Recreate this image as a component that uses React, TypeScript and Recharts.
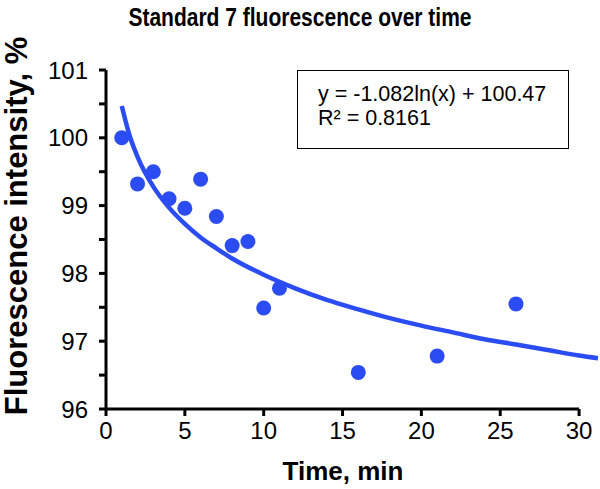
import { ComposedChart, Scatter, Line, XAxis, YAxis, ReferenceLine, Label } from 'recharts';

const timeMin = [1, 2, 3, 4, 5, 6, 7, 8, 9, 10, 11, 16, 21, 26];
const intensity = [100.0, 99.32, 99.5, 99.1, 98.96, 99.39, 98.84, 98.41, 98.47, 97.49, 97.78, 96.54, 96.78, 97.55];

// log trendline (y = -1.082ln(x) + 100.47)
const trendX = [1, 1.5, 2, 3, 4, 5, 6, 7, 8, 10, 12, 14, 16, 18, 20, 22, 24, 26, 28, 30, 31.2];
const trendY = [100.47, 100.03, 99.72, 99.28, 98.97, 98.73, 98.53, 98.37, 98.22, 97.98, 97.78, 97.61, 97.47, 97.34, 97.23, 97.13, 97.03, 96.95, 96.87, 96.79, 96.75];

const xTicks = [0, 5, 10, 15, 20, 25, 30];
const yTicks = [96, 96.5, 97, 97.5, 98, 98.5, 99, 99.5, 100, 100.5, 101];

const BLUE = '#2b4cf3';
const FONT = '"Liberation Sans", Arial, sans-serif';

const points = timeMin.map((x, i) => ({ x, y: intensity[i] }));
const trend = trendX.map((x, i) => ({ x, y: trendY[i] }));

export default function App() {
    return (
        <div style={{ position: 'absolute', left: 0, top: 0, width: 600, height: 489, background: '#fff', fontFamily: FONT }}>
            <div style={{
                position: 'absolute', left: 0, top: 3, width: 600, textAlign: 'center',
                fontSize: 21, fontWeight: 'bold', lineHeight: '24px', color: '#000',
                transform: 'scaleY(1.2)', transformOrigin: 'top',
            }}>
                Standard 7 fluorescence over time
            </div>
            <ComposedChart
                width={600}
                height={489}
                margin={{ top: 70, right: 2, bottom: 0, left: 46 }}
                style={{ fontFamily: FONT }}
            >
                <XAxis
                    dataKey="x"
                    type="number"
                    domain={[0, 31.2]}
                    ticks={xTicks}
                    axisLine={false}
                    tickLine={{ stroke: '#000', strokeWidth: 3 }}
                    tickSize={7}
                    tickMargin={6}
                    tick={{ fill: '#000', fontSize: 24 }}
                    height={80}
                    allowDataOverflow
                >
                    <Label
                        value="Time, min"
                        content={() => (
                            <text x={343} y={480} textAnchor="middle" fontSize={26} fontWeight="bold" fill="#000">
                                Time, min
                            </text>
                        )}
                    />
                </XAxis>
                <YAxis
                    type="number"
                    domain={[96, 101]}
                    ticks={yTicks}
                    interval={0}
                    tickFormatter={(v: number) => (Number.isInteger(v) ? String(v) : '')}
                    axisLine={{ stroke: '#000', strokeWidth: 3 }}
                    tickLine={{ stroke: '#000', strokeWidth: 3 }}
                    tickSize={7}
                    tickMargin={11}
                    tick={{ fill: '#000', fontSize: 24 }}
                    width={60}
                >
                    <Label
                        value="Fluorescence intensity, %"
                        content={() => (
                            <text
                                x={27}
                                y={226}
                                transform="rotate(-90 27 226)"
                                textAnchor="middle"
                                fontSize={31}
                                fontWeight="bold"
                                fill="#000"
                            >
                                Fluorescence intensity, %
                            </text>
                        )}
                    />
                </YAxis>
                <ReferenceLine
                    segment={[{ x: 0, y: 96 }, { x: 30, y: 96 }]}
                    stroke="#000"
                    strokeWidth={3}
                    ifOverflow="visible"
                />
                <Line
                    data={trend}
                    dataKey="y"
                    type="monotone"
                    stroke={BLUE}
                    strokeWidth={4.5}
                    dot={false}
                    activeDot={false}
                    isAnimationActive={false}
                />
                <Scatter
                    data={points}
                    dataKey="y"
                    fill={BLUE}
                    shape={(p: any) => <circle cx={p.cx} cy={p.cy} r={7.5} fill={BLUE} />}
                    isAnimationActive={false}
                />
            </ComposedChart>
            <div style={{
                position: 'absolute', left: 297, top: 70, width: 272, height: 79,
                border: '1.5px solid #000', background: '#fff', color: '#000',
                fontSize: 21.5, lineHeight: '24px', padding: '10.5px 0 0 20px', boxSizing: 'border-box',
            }}>
                <div>y = -1.082ln(x) + 100.47</div>
                <div>R² = 0.8161</div>
            </div>
        </div>
    );
}
